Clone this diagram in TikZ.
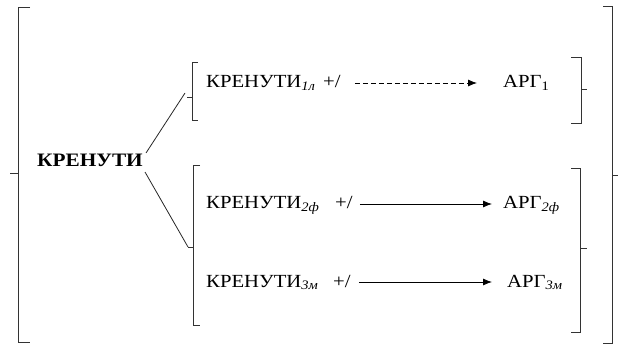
\documentclass[tikz,border=0pt]{standalone}
\usepackage{fontspec}
\setmainfont{Liberation Serif}[FakeStretch=1.12]
\usetikzlibrary{arrows.meta}
\begin{document}
\begin{tikzpicture}[x=1pt,y=-1pt,
  br/.style={line width=0.9pt,draw=black!80},
  lbl/.style={font=\fontsize{18.5}{21}\selectfont,inner sep=0pt,anchor=base west},
  conn/.style={line width=0.8pt,draw=black!85},
  arr/.style={line width=0.8pt,-{Latex[length=9pt,width=7pt]}}]
\useasboundingbox (0,0) rectangle (618,345);
% outer brackets
\draw[br] (30,7) -- (18,7) -- (18,342) -- (30,342);
\draw[br] (18,173) -- (10,173);
\draw[br] (603,6) -- (612,6) -- (612,343) -- (603,343);
\draw[br] (612,175) -- (618,175);
% inner brackets, first group
\draw[br] (198,62) -- (192,62) -- (192,120) -- (198,120);
\draw[br] (192,97) -- (187,97);
\draw[br] (571,57) -- (581,57) -- (581,123) -- (571,123);
\draw[br] (581,89) -- (587,89);
% inner brackets, second group
\draw[br] (200,165) -- (193,165) -- (193,325) -- (200,325);
\draw[br] (193,247) -- (188,247);
\draw[br] (571,168) -- (580,168) -- (580,332) -- (571,332);
\draw[br] (580,248) -- (587,248);
% root
\node[lbl] (root) at (37,166) {\fontsize{19}{22}\selectfont\bfseries КРЕНУТИ};
\coordinate (j1) at (185,93);
\coordinate (j2) at (188,247);
\draw[conn] (146,153) -- (j1);
\draw[conn] (145,172) -- (j2);
% rows
\node[lbl] (k1) at (206,88) {КРЕНУТИ\textsubscript{\textit{1л}}};
\node[lbl] (p1) at (323,88) {+/};
\node[lbl] (a1) at (503,88) {АРГ\textsubscript{1}};
\node[lbl] (k2) at (206,208) {КРЕНУТИ\textsubscript{\textit{2ф}}};
\node[lbl] (p2) at (335,208) {+/};
\node[lbl] (a2) at (503,208) {АРГ\textsubscript{\textit{2ф}}};
\node[lbl] (k3) at (206,287) {КРЕНУТИ\textsubscript{\textit{3м}}};
\node[lbl] (p3) at (333,287) {+/};
\node[lbl] (a3) at (507,287) {АРГ\textsubscript{\textit{3м}}};
\draw[arr,dash pattern=on 5pt off 3pt] ([xshift=14pt,yshift=5pt]p1.base east) -- ([xshift=-26pt,yshift=5pt]a1.base west);
\draw[arr] ([xshift=7pt,yshift=4pt]p2.base east) -- ([xshift=-11pt,yshift=4pt]a2.base west);
\draw[arr] ([xshift=8pt,yshift=5pt]p3.base east) -- ([xshift=-15pt,yshift=5pt]a3.base west);
\end{tikzpicture}
\end{document}
